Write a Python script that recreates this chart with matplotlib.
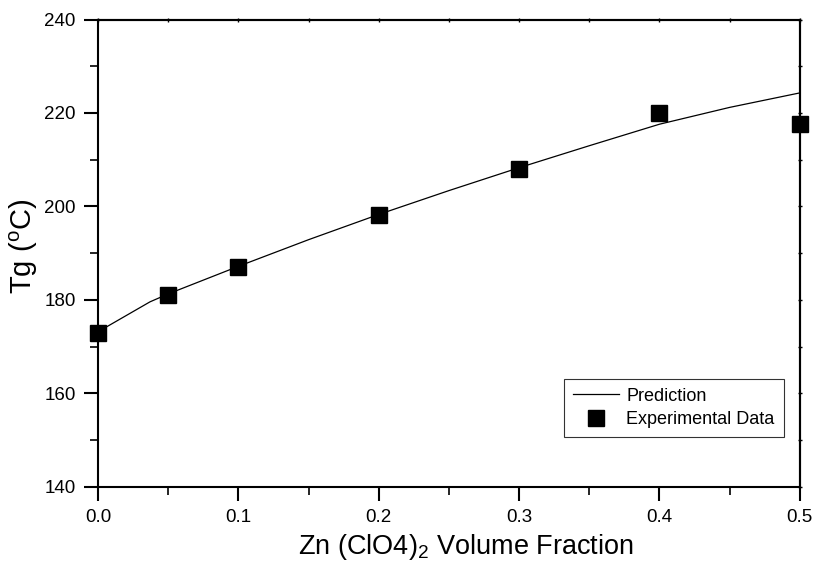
import numpy as np
import matplotlib
matplotlib.use('Agg')
import matplotlib.pyplot as plt
from matplotlib.ticker import MultipleLocator

plt.rcParams['font.family'] = ['Liberation Sans', 'DejaVu Sans']
plt.rcParams['mathtext.fontset'] = 'custom'
plt.rcParams['mathtext.rm'] = 'Liberation Sans'

# prediction curve
pred_x = [0.0, 0.037, 0.05, 0.1, 0.15, 0.2, 0.25, 0.3, 0.35, 0.4, 0.45, 0.5]
pred_tg = [173.2, 179.6, 181.3, 187.2, 192.9, 198.3, 203.4, 208.3, 213.0, 217.6, 221.2, 224.3]

# experimental points
exp_x = [0.0, 0.05, 0.1, 0.2, 0.3, 0.4, 0.5]
exp_tg = [173.0, 181.1, 187.1, 198.2, 208.0, 220.1, 217.6]

fig = plt.figure(figsize=(8.17, 5.62), dpi=100)
ax = fig.add_axes([0.12, 0.1335, 0.859, 0.8318])

ax.plot(pred_x, pred_tg, color='black', lw=0.9, label='Prediction', zorder=2)
ax.plot(exp_x, exp_tg, ls='none', marker='s', ms=11.5, color='black',
        label='Experimental Data', zorder=3, clip_on=False)

ax.set_xlim(0, 0.5)
ax.set_ylim(140, 240)
ax.xaxis.set_major_locator(MultipleLocator(0.1))
ax.xaxis.set_minor_locator(MultipleLocator(0.05))
ax.yaxis.set_major_locator(MultipleLocator(20))
ax.yaxis.set_minor_locator(MultipleLocator(10))
ax.xaxis.set_major_formatter(plt.FormatStrFormatter('%.1f'))

for s in ax.spines.values():
    s.set_linewidth(1.5)
ax.tick_params(which='major', direction='out', length=10, width=1.5, labelsize=13.5, pad=6)
ax.tick_params(which='minor', direction='out', length=6, width=1.2)

# small ticks on top and right
ax2 = ax.secondary_xaxis('top')
ax2.xaxis.set_major_locator(MultipleLocator(0.1))
ax2.xaxis.set_minor_locator(MultipleLocator(0.05))
ax2.tick_params(which='both', direction='inout', length=3, width=1, labeltop=False)
ax3 = ax.secondary_yaxis('right')
ax3.yaxis.set_major_locator(MultipleLocator(20))
ax3.yaxis.set_minor_locator(MultipleLocator(10))
ax3.tick_params(which='both', direction='inout', length=3, width=1, labelright=False)
for a in (ax2, ax3):
    for s in a.spines.values():
        s.set_linewidth(1.5)

ax.set_xlabel('Zn (ClO4)$_\\mathregular{2}$ Volume Fraction', fontsize=19.5)
ax.set_ylabel('Tg ($\\mathregular{^o}$C)', fontsize=21)
ax.xaxis.set_label_coords(0.524, -0.096)
ax.yaxis.set_label_coords(-0.083, 0.514)

leg = ax.legend(loc='lower right', bbox_to_anchor=(0.977, 0.107), borderaxespad=0,
                fontsize=13, frameon=True, fancybox=False, edgecolor='black',
                borderpad=0.5, handlelength=2.55, handletextpad=0.4, labelspacing=0.35)
leg.get_frame().set_linewidth(0.8)

fig.savefig('out.png', dpi=100)
